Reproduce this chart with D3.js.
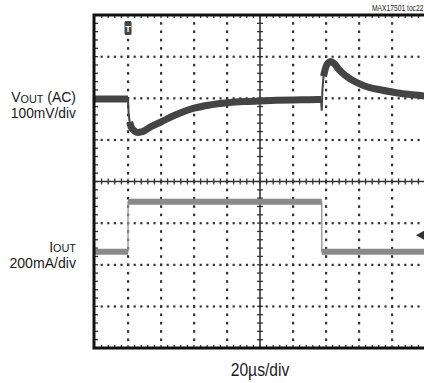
<!DOCTYPE html>
<html>
<head>
<meta charset="utf-8">
<script src="https://cdn.jsdelivr.net/npm/d3@7"></script>
<style>
  html, body { margin: 0; padding: 0; background: #fff; }
  svg { display: block; }
  text { font-family: "Liberation Sans", Arial, Helvetica, sans-serif; fill: #1a1a1a; }
</style>
</head>
<body>
<svg id="chart" width="424" height="383"></svg>
<script>
// ---------------- data ----------------
const timePerDiv = 20;            // µs / div
const xDivisions = 10;
const yDivisions = 8;

// VOUT (AC) trace, 100mV/div
const voutTime = [0, 20, 20.3, 21, 22, 24, 26, 28, 30, 34, 40, 46, 52, 60, 70, 80, 90, 100, 110, 120, 130, 137,
                  137.4, 137.8, 138.5, 140, 142, 143, 145, 148, 152, 156, 160, 166, 172, 180, 188, 196, 200];
const voutMv   = [0, 0, -30, -55, -68, -77, -80, -79, -76, -66, -55, -43, -33, -22, -14, -9, -6, -4.5, -3, -2, -1.5, -1,
                  -28, 20, 55, 78, 89, 90, 85, 70, 56, 45, 37, 28, 23, 17, 12, 9, 7];
const voutPerDiv = 100;           // mV / div
const voutZeroDiv = 1.98;         // screen division of the AC zero

// IOUT trace, 200mA/div
const ioutTime = [0, 20, 20.05, 137.4, 137.45, 200];
const ioutMa   = [100, 100, 340, 340, 100, 100];
const ioutPerDiv = 200;           // mA / div
const ioutZeroDiv = -2.187;
const ioutMarkerDiv = -1.29;

const labels = {
  note: "MAX17501 toc22",
  vout: ["V", "OUT", " (AC)"],
  voutScale: "100mV/div",
  iout: ["I", "OUT", ""],
  ioutScale: "200mA/div",
  time: "20µs/div"
};

(function () {
// ---------------- layout ----------------
const svg = d3.select("#chart");
const pL = 95, pR = 425, pT = 15, pB = 348;

const x = d3.scaleLinear().domain([0, xDivisions * timePerDiv]).range([pL, pR]);
const yDiv = d3.scaleLinear().domain([-yDivisions / 2, yDivisions / 2]).range([pB, pT]);
const yV = v => yDiv(v / voutPerDiv + voutZeroDiv);
const yI = v => yDiv(v / ioutPerDiv + ioutZeroDiv);

const g = svg.append("g");

// ---------------- graticule ----------------
const minorX = (pR - pL) / xDivisions / 5;
const minorY = (pB - pT) / yDivisions / 5;
const dotColor = "#333";

for (let i = 1; i < xDivisions; i++) {
  if (i === xDivisions / 2) continue;
  const gx = x(i * timePerDiv);
  for (let k = 1; k < yDivisions * 5; k++) {
    g.append("rect").attr("x", gx - 1).attr("y", pT + k * minorY - 1.2)
      .attr("width", 2.2).attr("height", 2.6).attr("fill", dotColor);
  }
}
for (let j = 1; j < yDivisions; j++) {
  if (j === yDivisions / 2) continue;
  const gy = yDiv(j - yDivisions / 2);
  for (let k = 1; k < xDivisions * 5; k++) {
    g.append("rect").attr("x", pL + k * minorX - 1).attr("y", gy - 1)
      .attr("width", 2.2).attr("height", 2.2).attr("fill", dotColor);
  }
}
const cx = x(xDivisions / 2 * timePerDiv), cy = yDiv(0);
g.append("line").attr("x1", cx).attr("x2", cx).attr("y1", pT).attr("y2", pB)
  .attr("stroke", "#333").attr("stroke-width", 1.6);
g.append("line").attr("x1", pL).attr("x2", pR).attr("y1", cy).attr("y2", cy)
  .attr("stroke", "#333").attr("stroke-width", 1.6);
for (let k = 1; k < yDivisions * 5; k++) {
  const yy = pT + k * minorY;
  g.append("line").attr("x1", cx - 3).attr("x2", cx + 3).attr("y1", yy).attr("y2", yy)
    .attr("stroke", "#333").attr("stroke-width", 1.3);
  g.append("line").attr("x1", pL).attr("x2", pL + 3).attr("y1", yy).attr("y2", yy)
    .attr("stroke", "#333").attr("stroke-width", 1.3);
}
for (let k = 1; k < xDivisions * 5; k++) {
  const xx = pL + k * minorX;
  g.append("line").attr("x1", xx).attr("x2", xx).attr("y1", cy - 3).attr("y2", cy + 3)
    .attr("stroke", "#333").attr("stroke-width", 1.3);
  g.append("line").attr("x1", xx).attr("x2", xx).attr("y1", pT).attr("y2", pT + 3)
    .attr("stroke", "#333").attr("stroke-width", 1.3);
  g.append("line").attr("x1", xx).attr("x2", xx).attr("y1", pB - 3).attr("y2", pB)
    .attr("stroke", "#333").attr("stroke-width", 1.3);
}

// ---------------- traces ----------------
function runs(xs, ys, sx, sy, steep) {
  const out = []; let cur = [[sx(xs[0]), sy(ys[0])]];
  for (let i = 1; i < xs.length; i++) {
    const p0 = [sx(xs[i - 1]), sy(ys[i - 1])], p1 = [sx(xs[i]), sy(ys[i])];
    const dx = Math.abs(p1[0] - p0[0]), dy = Math.abs(p1[1] - p0[1]);
    if (dy > steep * dx) { if (cur.length > 1) out.push(cur); cur = [p1]; }
    else cur.push(p1);
  }
  if (cur.length > 1) out.push(cur);
  return out;
}
const line = d3.line().curve(d3.curveMonotoneX);
const straight = d3.line();

svg.append("clipPath").attr("id", "plotclip")
  .append("rect").attr("x", pL).attr("y", pT).attr("width", pR - pL).attr("height", pB - pT);
const traces = svg.append("g").attr("clip-path", "url(#plotclip)");

const ioutPts = ioutTime.map((t, i) => [x(t), yI(ioutMa[i])]);
traces.append("path").attr("d", straight(ioutPts)).attr("fill", "none")
  .attr("stroke", "#9a9a9a").attr("stroke-width", 1.4);
runs(ioutTime, ioutMa, x, yI, 4).forEach(r => {
  traces.append("path").attr("d", straight(r)).attr("fill", "none")
    .attr("stroke", "#8a8a8a").attr("stroke-width", 6);
});

const voutPts = voutTime.map((t, i) => [x(t), yV(voutMv[i])]);
traces.append("path").attr("d", straight(voutPts)).attr("fill", "none")
  .attr("stroke", "#444").attr("stroke-width", 2);
runs(voutTime, voutMv, x, yV, 4).forEach(r => {
  traces.append("path").attr("d", line(r)).attr("fill", "none")
    .attr("stroke", "#444").attr("stroke-width", 7).attr("stroke-linejoin", "round");
});

// ---------------- markers ----------------
const trigX = x(timePerDiv);
svg.append("rect").attr("x", trigX - 3.5).attr("y", 21).attr("width", 7).attr("height", 14)
  .attr("rx", 1.5).attr("fill", "#444");
svg.append("text").attr("x", trigX).attr("y", 32).attr("text-anchor", "middle")
  .attr("font-size", 9).attr("font-weight", "bold").style("fill", "#fff").text("T");
const my = yDiv(ioutMarkerDiv);
svg.append("path").attr("d", `M416,${my} L424,${my - 4.5} L424,${my + 4.5} Z`).attr("fill", "#333");

// ---------------- frame ----------------
svg.append("rect").attr("x", 94).attr("y", pT).attr("width", 333).attr("height", pB - pT)
  .attr("fill", "none").attr("stroke", "#111").attr("stroke-width", 3);

// ---------------- text ----------------
function label(px, py, anchor, size, sx, parts) {
  const t = svg.append("text").attr("transform", `translate(${px},${py}) scale(${sx},1)`)
    .attr("text-anchor", anchor).attr("font-size", size);
  if (typeof parts === "string") { t.text(parts); return t; }
  t.append("tspan").text(parts[0]);
  t.append("tspan").attr("font-size", size * 0.78).attr("dy", 0.5).text(parts[1]);
  if (parts[2]) t.append("tspan").attr("dy", -0.5).text(parts[2]);
  return t;
}
label(372, 11, "start", 9.6, 0.7, labels.note);
label(76, 102, "end", 15, 0.93, labels.vout);
label(76, 118, "end", 15, 0.92, labels.voutScale);
label(76, 251.7, "end", 15, 0.93, labels.iout);
label(76, 267.7, "end", 15, 0.94, labels.ioutScale);
label(260, 376, "middle", 18, 0.87, labels.time);
})();
</script>
</body>
</html>
